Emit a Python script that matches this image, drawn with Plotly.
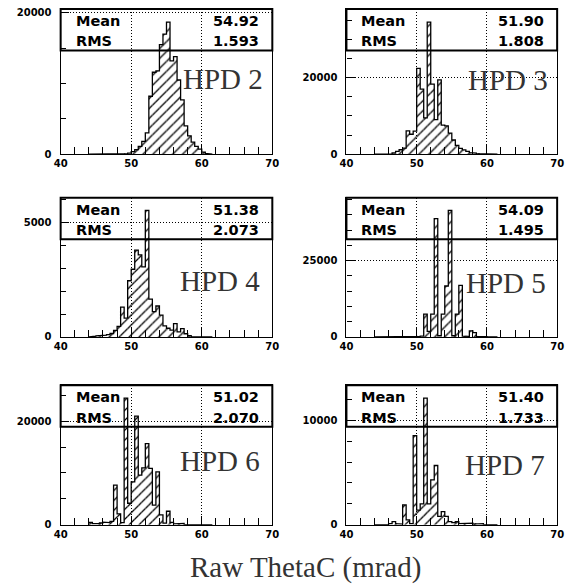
import numpy as np
import plotly.graph_objects as go

# ---------------- data ----------------
BIN_WIDTH = 0.5
DATA_START = 44.0          # lower edge of first listed bin
X_RANGE = [40, 70]

hpd_names = ["HPD 2", "HPD 3", "HPD 4", "HPD 5", "HPD 6", "HPD 7"]

hpd2_counts = [0, 0, 0, 0, 0, 0, 0, 0, 0, 30, 80, 150, 350, 650, 1100, 1800, 3000, 8200,
               11600, 11800, 15500, 17000, 18700, 13200, 13800, 10500, 7700, 4000, 2600,
               1700, 1100, 700, 300, 100, 0]
hpd3_counts = [0, 0, 0, 0, 50, 300, 700, 1150, 1600, 6100, 5200, 6000, 22400, 17000, 9500,
               34500, 18300, 9000, 19400, 7600, 7400, 5500, 3700, 2300, 1500, 1100, 700, 400,
               250, 100, 0, 0, 0, 0, 0]
hpd4_counts = [0, 30, 50, 60, 80, 100, 150, 290, 460, 1300, 820, 2450, 2950, 3780, 3580, 3050,
               5520, 1650, 1100, 1350, 950, 480, 380, 300, 580, 220, 360, 140, 60, 0, 0, 0,
               0, 0, 0]
hpd5_counts = [0, 0, 0, 0, 0, 0, 80, 60, 80, 60, 80, 100, 150, 300, 7500, 1800, 7500, 38800,
               400, 7500, 16700, 41500, 400, 7500, 16900, 300, 200, 2000, 1400, 150, 250, 100,
               0, 0, 0]
hpd6_counts = [450, 200, 200, 350, 500, 400, 640, 7670, 2100, 400, 24500, 4150, 8300, 21000,
               9600, 11000, 15700, 10900, 3800, 10200, 1900, 300, 2600, 450, 150, 250, 250, 0,
               0, 0, 0, 0, 0, 0, 0]
hpd7_counts = [0, 0, 0, 0, 100, 300, 100, 50, 1900, 470, 100, 8550, 1400, 2000, 12150, 2000,
               4300, 5680, 800, 1260, 800, 300, 200, 300, 100, 100, 100, 150, 50, 50, 100, 0,
               0, 0, 0]

all_counts = [hpd2_counts, hpd3_counts, hpd4_counts, hpd5_counts, hpd6_counts, hpd7_counts]

stat_means = ["54.92", "51.90", "51.38", "54.09", "51.02", "51.40"]
stat_rms = ["1.593", "1.808", "2.073", "1.495", "2.070", "1.733"]

x_tick_vals = [40, 50, 60, 70]
y_label_vals = [20000, 20000, 5000, 25000, 20000, 10000]
y_minor_steps = [5000, 5000, 1000, 5000, 5000, 2000]

x_title = "Raw ThetaC (mrad)"

# ---------------- layout geometry (pixels) ----------------
W, H = 570, 588
col_px = [(55, 272), (348, 564)]
row_px = [(8, 155), (199, 340), (389, 530)]
label_pos = [(-7, 0.52), (-7, 0.51), (-10, 0.40), (-9, 0.39), (-10, 0.46), (-10, 0.43)]

BOLD = "DejaVu Sans"
SERIF = "Liberation Serif"

fig = go.Figure()
layout = dict(width=W, height=H, margin=dict(l=0, r=0, t=0, b=0),
              paper_bgcolor="white", plot_bgcolor="white", showlegend=False)
shapes, annotations = [], []

for i, counts in enumerate(all_counts):
    r, c = divmod(i, 2)
    n = i + 1
    xa = "x" if n == 1 else f"x{n}"
    ya = "y" if n == 1 else f"y{n}"
    counts = np.array(counts, dtype=float)
    lo = DATA_START + BIN_WIDTH * np.arange(len(counts))
    centers = lo + BIN_WIDTH / 2
    edges = np.append(lo, lo[-1] + BIN_WIDTH)

    # hatched fill
    fig.add_trace(go.Bar(x=centers, y=counts, width=BIN_WIDTH, xaxis=xa, yaxis=ya,
                         marker=dict(color="black", line=dict(width=0),
                                     pattern=dict(shape="/", size=7, solidity=0.18,
                                                  fillmode="replace")),
                         hoverinfo="skip"))
    # step outline
    sx = np.repeat(edges, 2)
    sy = np.concatenate([[0], np.repeat(counts, 2), [0]])
    fig.add_trace(go.Scatter(x=sx, y=sy, mode="lines", xaxis=xa, yaxis=ya,
                             line=dict(color="black", width=1.3), hoverinfo="skip"))

    x0p, x1p = col_px[c]
    t_p, b_p = row_px[r]
    ph = b_p - t_p
    ymax = counts.max() * 1.1
    yv = [0, y_label_vals[i]]
    common = dict(showline=True, mirror=True, linecolor="black", linewidth=1.2,
                  showgrid=True, gridcolor="black", gridwidth=1, griddash="1px,2px",
                  zeroline=False, ticks="inside", tickcolor="black",
                  tickfont=dict(family=BOLD, size=10, color="black", weight="bold"))
    layout["xaxis" if n == 1 else f"xaxis{n}"] = dict(
        domain=[x0p / W, x1p / W], range=X_RANGE, anchor=ya,
        tickmode="array", tickvals=x_tick_vals, ticktext=[str(v) for v in x_tick_vals],
        ticklen=9, minor=dict(dtick=2, tick0=40, ticks="inside", ticklen=7, tickcolor="black"),
        **common)
    layout["yaxis" if n == 1 else f"yaxis{n}"] = dict(
        domain=[1 - b_p / H, 1 - t_p / H], range=[0, ymax], anchor=xa,
        tickmode="array", tickvals=yv, ticktext=[str(v) for v in yv],
        ticklen=8, ticklabelstandoff=6,
        minor=dict(dtick=y_minor_steps[i], tick0=0, ticks="inside", ticklen=5, tickcolor="black"),
        **common)

    xd, yd = f"{xa} domain", f"{ya} domain"
    shapes.append(dict(type="rect", xref=xd, yref=yd, x0=0, x1=1, y0=1 - 42 / ph, y1=1,
                       line=dict(color="black", width=2), fillcolor="rgba(0,0,0,0)", layer="above"))
    sfont = dict(family=BOLD, size=14.5, color="black", weight="bold")
    for txt, xx, xan, xs, ys in [("Mean", 0, "left", 13, -12), ("RMS", 0, "left", 13, -32.5),
                                 (stat_means[i], 1, "right", -11, -12),
                                 (stat_rms[i], 1, "right", -11, -32.5)]:
        annotations.append(dict(text=txt, xref=xd, yref=yd, x=xx, y=1, xanchor=xan,
                                yanchor="middle", xshift=xs, yshift=ys, showarrow=False,
                                font=sfont))
    lx, ly = label_pos[i]
    annotations.append(dict(text=hpd_names[i], xref=xd, yref=yd, x=1, y=ly, xanchor="right",
                            yanchor="middle", xshift=lx, showarrow=False,
                            font=dict(family=SERIF, size=29, color="#333333")))

annotations.append(dict(text=x_title, xref="paper", yref="paper", x=306 / W, y=1 - 573 / H,
                        xanchor="center", yanchor="middle", showarrow=False,
                        font=dict(family=SERIF, size=29, color="#333333")))

layout["shapes"] = shapes
layout["annotations"] = annotations
fig.update_layout(**layout)
fig.write_html("out.html")
